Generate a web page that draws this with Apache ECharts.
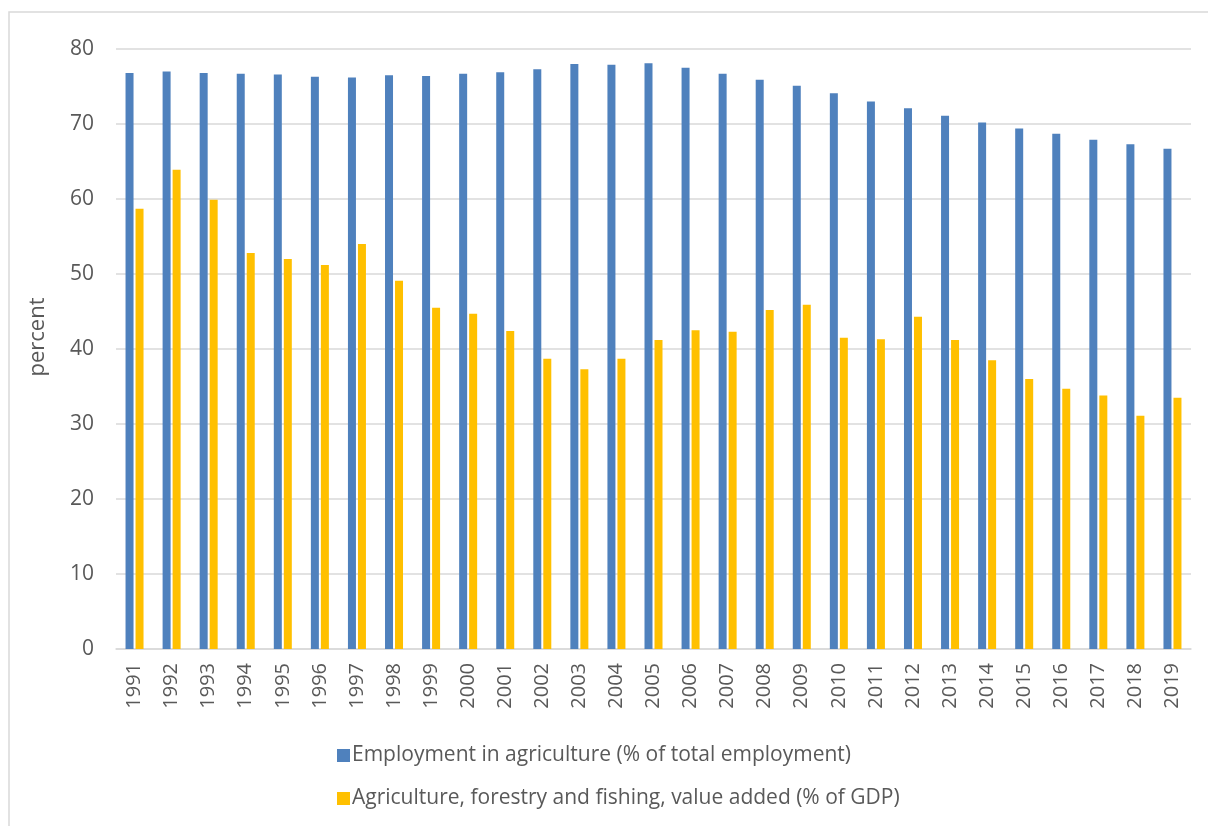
<!DOCTYPE html>
<html>
<head>
<meta charset="utf-8">
<script src="https://cdn.jsdelivr.net/npm/echarts@6/dist/echarts.min.js"></script>
<style>
  html, body { margin: 0; padding: 0; background: #ffffff; }
  #chart { width: 1208px; height: 826px; }
</style>
</head>
<body>
<div id="chart"></div>
<script>
// Years on the category axis
const years = ['1991','1992','1993','1994','1995','1996','1997','1998','1999','2000',
  '2001','2002','2003','2004','2005','2006','2007','2008','2009','2010',
  '2011','2012','2013','2014','2015','2016','2017','2018','2019'];

// Employment in agriculture (% of total employment)
const employment = [76.8, 77.0, 76.8, 76.7, 76.6, 76.3, 76.2, 76.5, 76.4, 76.7,
  76.9, 77.3, 78.0, 77.9, 78.1, 77.5, 76.7, 75.9, 75.1, 74.1,
  73.0, 72.1, 71.1, 70.2, 69.4, 68.7, 67.9, 67.3, 66.7];

// Agriculture, forestry and fishing, value added (% of GDP)
const valueAdded = [58.7, 63.9, 59.9, 52.8, 52.0, 51.2, 54.0, 49.1, 45.5, 44.7,
  42.4, 38.7, 37.3, 38.7, 41.2, 42.5, 42.3, 45.2, 45.9, 41.5,
  41.3, 44.3, 41.2, 38.5, 36.0, 34.7, 33.8, 31.1, 33.5];

const seriesNames = ['Employment in agriculture (% of total employment)',
  'Agriculture, forestry and fishing, value added (% of GDP)'];

const textColor = '#595959';
const fontFamily = '"Open Sans", "Noto Sans", sans-serif';

const chart = echarts.init(document.getElementById('chart'), null, { renderer: 'canvas' });

chart.setOption({
  animation: false,
  backgroundColor: '#ffffff',
  textStyle: { fontFamily: fontFamily, color: textColor },
  graphic: [
    {
      type: 'rect',
      shape: { x: 9, y: 12, width: 1240, height: 840 },
      style: { fill: 'none', stroke: '#d9d9d9', lineWidth: 1.5 },
      silent: true
    },
    {
      type: 'text',
      x: 38, y: 337,
      rotation: Math.PI / 2,
      style: {
        text: 'percent',
        fill: textColor,
        font: '22px ' + fontFamily,
        align: 'center',
        verticalAlign: 'middle'
      }
    }
  ],
  grid: { left: 116, right: 17, top: 49, bottom: 177, containLabel: false },
  legend: {
    orient: 'vertical',
    left: 332,
    top: 740,
    itemGap: 22,
    itemWidth: 13,
    itemHeight: 13,
    icon: 'rect',
    textStyle: { fontSize: 21, color: textColor, fontFamily: fontFamily, padding: [0, 0, 0, -3] },
    data: seriesNames
  },
  xAxis: {
    type: 'category',
    data: years,
    axisLine: { lineStyle: { color: '#d9d9d9', width: 1.5 } },
    axisTick: { show: false },
    axisLabel: {
      rotate: 90,
      interval: 0,
      margin: 14,
      fontSize: 20,
      color: textColor,
      fontFamily: fontFamily
    }
  },
  yAxis: {
    type: 'value',
    min: 0,
    max: 80,
    interval: 10,
    axisLine: { show: false },
    axisTick: { show: false },
    splitLine: { lineStyle: { color: '#d9d9d9', width: 1.5 } },
    axisLabel: { margin: 22, fontSize: 21, color: textColor, fontFamily: fontFamily }
  },
  series: [
    {
      name: seriesNames[0],
      type: 'bar',
      data: employment,
      barWidth: 8,
      barGap: '25%',
      itemStyle: { color: '#4f81bd' }
    },
    {
      name: seriesNames[1],
      type: 'bar',
      data: valueAdded,
      barWidth: 8,
      itemStyle: { color: '#ffc000' }
    }
  ]
});
</script>
</body>
</html>
